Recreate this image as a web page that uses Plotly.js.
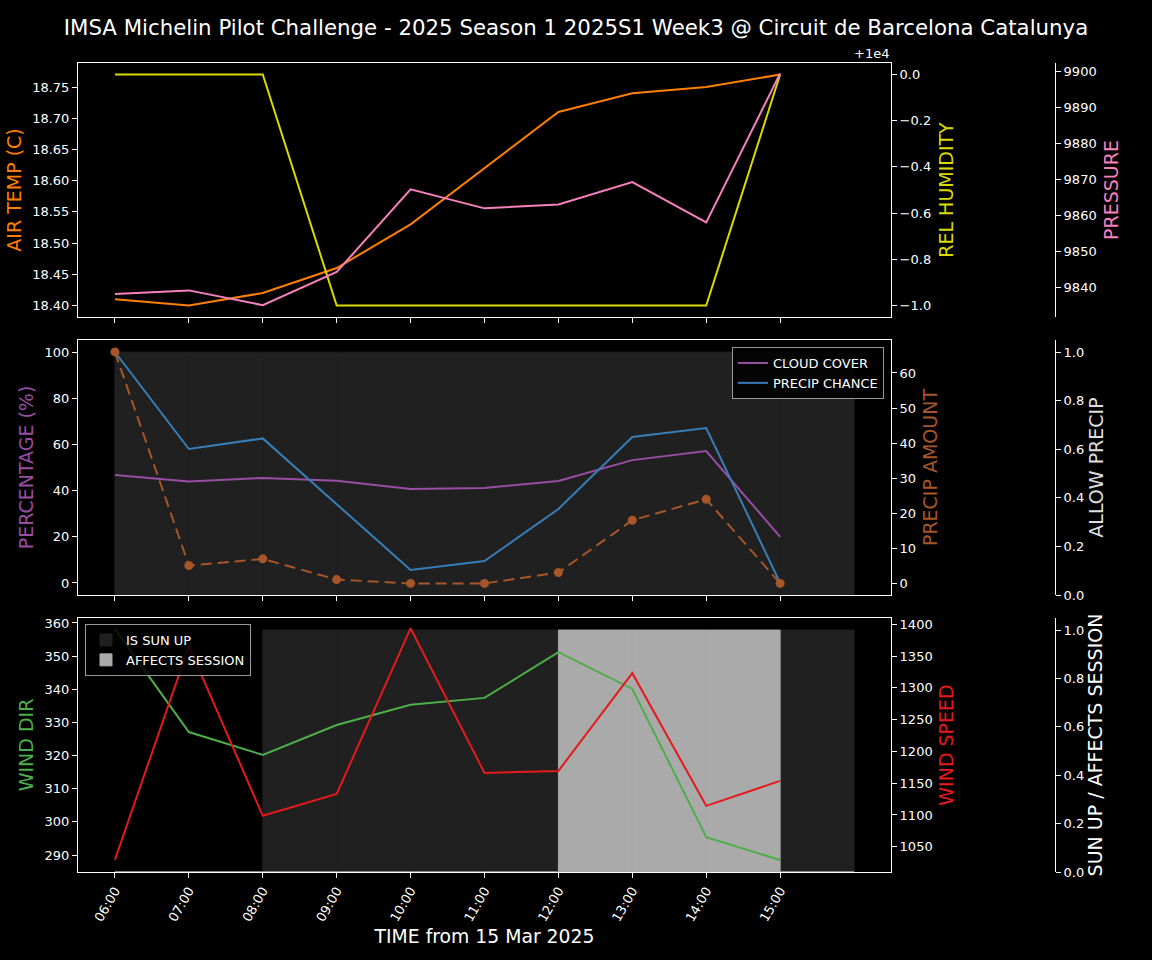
<!DOCTYPE html>
<html>
<head>
<meta charset="utf-8">
<script src="https://cdn.plot.ly/plotly-3.0.1.min.js"></script>
<style>html,body{margin:0;padding:0;background:#000;}#chart{width:1152px;height:960px;}</style>
</head>
<body>
<div id="chart"></div>
<script>
const times = ['2025-03-15 06:00','2025-03-15 07:00','2025-03-15 08:00','2025-03-15 09:00','2025-03-15 10:00',
               '2025-03-15 11:00','2025-03-15 12:00','2025-03-15 13:00','2025-03-15 14:00','2025-03-15 15:00'];
const tickLabels = ['06:00','07:00','08:00','09:00','10:00','11:00','12:00','13:00','14:00','15:00'];
const airTemp = [18.41, 18.40, 18.42, 18.46, 18.53, 18.62, 18.71, 18.74, 18.75, 18.77];
const relHumidity = [10000, 10000, 10000, 9999, 9999, 9999, 9999, 9999, 9999, 10000];
const humidityTickVals = [9999, 9999.2, 9999.4, 9999.6, 9999.8, 10000];
const humidityTickText = ['\u22121.0', '\u22120.8', '\u22120.6', '\u22120.4', '\u22120.2', '0.0'];
const pressure = [9838.2, 9839.2, 9835.1, 9844.3, 9867.3, 9862.0, 9863.1, 9869.3, 9858.1, 9899.5];
const cloudCover = [46.8, 43.9, 45.5, 44.3, 40.7, 41.1, 44.2, 53.2, 57.1, 20.0];
const precipChance = [100, 58.0, 62.6, 34.0, 5.6, 9.5, 32.0, 63.2, 67.1, 0];
const precipAmount = [66, 5.1, 7.0, 1.1, 0, 0, 3.1, 18.0, 24.0, 0];
const allowPrecip = [1, 1, 1, 1, 1, 1, 1, 1, 1, 1];
const windDir = [358.2, 327.1, 320.2, 329.2, 335.3, 337.4, 351.2, 340.1, 295.4, 288.5];
const windSpeed = [1029.6, 1365.5, 1098.7, 1133.2, 1393.7, 1166.2, 1169.3, 1323.1, 1114.4, 1153.6];
const isSunUp = [0, 0, 1, 1, 1, 1, 1, 1, 1, 1];
const affectsSession = [0, 0, 0, 0, 0, 0, 1, 1, 1, 0];

const FONT = 'DejaVu Sans, Liberation Sans, sans-serif';
const HOUR = 3600000;
const XDOM = [78/1152, 891/1152];
const FREEPOS = 1055/1152;
const D1 = [1-317/960, 1-63/960];
const D2 = [1-595/960, 1-340/960];
const D3 = [1-872/960, 1-618/960];
const XRANGE = ['2025-03-15 05:30', '2025-03-15 16:30'];
const TITLE_SIZE = 19;

function line(x, y, color, xa, ya, extra) {
  return Object.assign({type:'scatter', mode:'lines', x:x, y:y, xaxis:xa, yaxis:ya,
    line:{color:color, width:2}, showlegend:false, hoverinfo:'skip'}, extra||{});
}
function bar(x, y, color, xa, ya, extra) {
  return Object.assign({type:'bar', x:x, y:y, xaxis:xa, yaxis:ya, width:HOUR, offset:0,
    marker:{color:color, line:{width:1, color:color}}, showlegend:false, hoverinfo:'skip'}, extra||{});
}

const traces = [
  line(times, airTemp, '#ff7f00', 'x', 'y'),
  line(times, relHumidity, '#dada00', 'x', 'y2'),
  line(times, pressure, '#f781bf', 'x', 'y3'),
  bar(times, allowPrecip, '#202020', 'x2', 'y4'),
  line(times, cloudCover, '#984ea3', 'x2', 'y5', {showlegend:true, name:'CLOUD COVER', legend:'legend'}),
  line(times, precipChance, '#377eb8', 'x2', 'y5', {showlegend:true, name:'PRECIP CHANCE', legend:'legend'}),
  line(times, precipAmount, '#a65628', 'x2', 'y6', {mode:'lines+markers',
    line:{color:'#a65628', width:2, dash:'11px,6px'}, marker:{color:'#a65628', size:9}}),
  bar(times, isSunUp, '#202020', 'x3', 'y9', {showlegend:true, name:'IS SUN UP', legend:'legend2'}),
  bar(times, affectsSession, '#aaaaaa', 'x3', 'y9', {showlegend:true, name:'AFFECTS SESSION', legend:'legend2'}),
  line(times, windDir, '#4daf4a', 'x3', 'y7'),
  line(times, windSpeed, '#e41a1c', 'x3', 'y8')
];

const tickCommon = {ticks:'outside', ticklen:5, tickwidth:1, tickcolor:'#ffffff',
  tickfont:{family:FONT, size:13, color:'#ffffff'}, showgrid:false, zeroline:false,
  showline:true, linecolor:'#ffffff', linewidth:1};

function xax(anchor, labels) {
  return Object.assign({}, tickCommon, {type:'date', domain:XDOM, anchor:anchor, range:XRANGE,
    tickvals:times, ticktext:tickLabels, showticklabels:labels, tickangle:-60, mirror:true});
}
function yax(opts, title, color, standoff) {
  return Object.assign({}, tickCommon, {title:{text:title, standoff:standoff, font:{family:FONT, size:TITLE_SIZE, color:color}}}, opts);
}

const layout = {
  width:1152, height:960,
  margin:{l:0, r:0, t:0, b:0},
  paper_bgcolor:'#000000', plot_bgcolor:'#000000',
  font:{family:FONT, color:'#ffffff'},
  barmode:'overlay',
  title:{text:'IMSA Michelin Pilot Challenge - 2025 Season 1 2025S1 Week3 @ Circuit de Barcelona Catalunya',
    x:0.5, xanchor:'center', y:1-28/960, yanchor:'middle', font:{family:FONT, size:21.3, color:'#ffffff'}},
  xaxis: xax('y', false),
  xaxis2: xax('y4', false),
  xaxis3: Object.assign(xax('y9', true), {title:{text:'TIME from 15 Mar 2025', font:{family:FONT, size:18.8, color:'#ffffff'}, standoff:6}}),
  yaxis: yax({domain:D1, anchor:'x', side:'left', range:[18.3815, 18.7885], dtick:0.05, tickformat:'.2f'}, 'AIR TEMP (C)', '#ff7f00', 5),
  yaxis2: yax({overlaying:'y', anchor:'x', side:'right', range:[9998.95, 10000.05], tickvals:humidityTickVals, ticktext:humidityTickText}, 'REL HUMIDITY', '#dada00', 9),
  yaxis3: yax({overlaying:'y', anchor:'free', position:FREEPOS, side:'right', range:[9831.8, 9902.4], dtick:10, tickformat:'d'}, 'PRESSURE', '#f781bf', 9),
  yaxis4: yax({domain:D2, anchor:'free', position:FREEPOS, side:'right', range:[0, 1.05], dtick:0.2, tickformat:'.1f'}, 'ALLOW PRECIP', '#dddddd', 6),
  yaxis5: yax({overlaying:'y4', anchor:'x2', side:'left', range:[-5.2, 105.2], dtick:20}, 'PERCENTAGE (%)', '#984ea3', 5),
  yaxis6: yax({overlaying:'y4', anchor:'x2', side:'right', range:[-3.3, 69.4], dtick:10}, 'PRECIP AMOUNT', '#a65628', 8),
  yaxis7: yax({overlaying:'y9', anchor:'x3', side:'left', range:[284.87, 361.5], dtick:10}, 'WIND DIR', '#4daf4a', 5),
  yaxis8: yax({overlaying:'y9', anchor:'x3', side:'right', range:[1010.3, 1409.9], dtick:50}, 'WIND SPEED', '#e41a1c', 8),
  yaxis9: yax({domain:D3, anchor:'free', position:FREEPOS, side:'right', range:[0, 1.05], dtick:0.2, tickformat:'.1f'}, 'SUN UP / AFFECTS SESSION', '#ffffff', 5),
  legend:{x:884/1152, xanchor:'right', y:1-347/960, yanchor:'top', bgcolor:'rgba(0,0,0,0.85)',
    bordercolor:'#999999', borderwidth:1, font:{family:FONT, size:13, color:'#ffffff'}},
  legend2:{x:85/1152, xanchor:'left', y:1-624/960, yanchor:'top', bgcolor:'rgba(0,0,0,0.85)',
    bordercolor:'#999999', borderwidth:1, font:{family:FONT, size:13, color:'#ffffff'}},
  annotations:[{text:'+1e4', xref:'paper', yref:'paper', x:891/1152, xanchor:'right', y:1-63/960, yanchor:'bottom',
    showarrow:false, font:{family:FONT, size:13, color:'#ffffff'}}]
};

Plotly.newPlot('chart', traces, layout, {displayModeBar:false, staticPlot:true});
</script>
</body>
</html>
